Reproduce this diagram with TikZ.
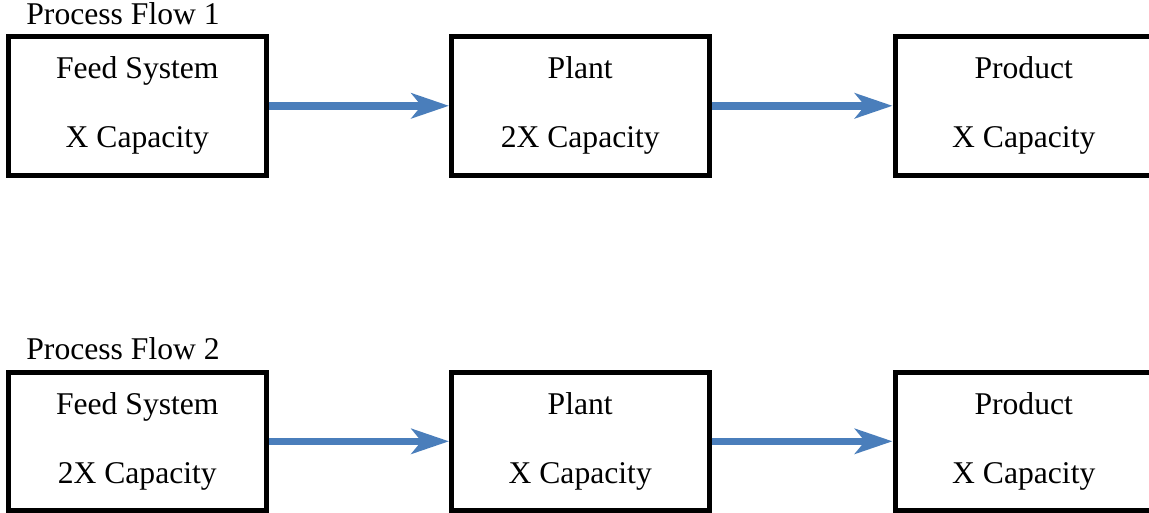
\documentclass[tikz,border=0pt]{standalone}
\usepackage{fontspec}
\setmainfont{Liberation Serif}
\usepackage{xcolor}
\usetikzlibrary{arrows.meta, positioning, calc}
\definecolor{FlowBlue}{RGB}{74, 126, 187}

\begin{document}
\begin{tikzpicture}[
  unit/.style={rectangle, draw=black, line width=0.1cm, fill=white,
               minimum width=5.15cm, minimum height=2.77cm, align=center,
               font=\fontsize{18}{39.3}\selectfont},
  flow/.style={draw=FlowBlue, line width=0.15cm,
               -{Stealth[length=0.75cm, width=0.5cm, inset=0.2cm]}},
  ttl/.style={anchor=base west, font=\fontsize{18}{21}\selectfont, inner sep=0pt}
]
  \clip (0,0) rectangle (22.98,10.24);

  % ---- Process Flow 1 (oben) ----
  \begin{scope}[yshift=8.124cm]
    \node[unit] (feedA)  at (2.746,0)  {Feed System\\X Capacity};
    \node[unit] (plantA) at (11.605,0) {Plant\\2X Capacity};
    \node[unit] (prodA)  at (20.475,0) {Product\\X Capacity};
    \node[ttl] (ttlA) at ($(feedA.north west)+(0.4,0.2)$) {Process Flow 1};
    \draw[flow] (feedA.east) -- (plantA.west);
    \draw[flow] (plantA.east) -- (prodA.west);
  \end{scope}

  % ---- Process Flow 2 (unten) ----
  \begin{scope}[yshift=1.414cm]
    \node[unit] (feedB)  at (2.746,0)  {Feed System\\2X Capacity};
    \node[unit] (plantB) at (11.605,0) {Plant\\X Capacity};
    \node[unit] (prodB)  at (20.475,0) {Product\\X Capacity};
    \node[ttl] (ttlB) at ($(feedB.north west)+(0.4,0.2)$) {Process Flow 2};
    \draw[flow] (feedB.east) -- (plantB.west);
    \draw[flow] (plantB.east) -- (prodB.west);
  \end{scope}
\end{tikzpicture}
\end{document}
